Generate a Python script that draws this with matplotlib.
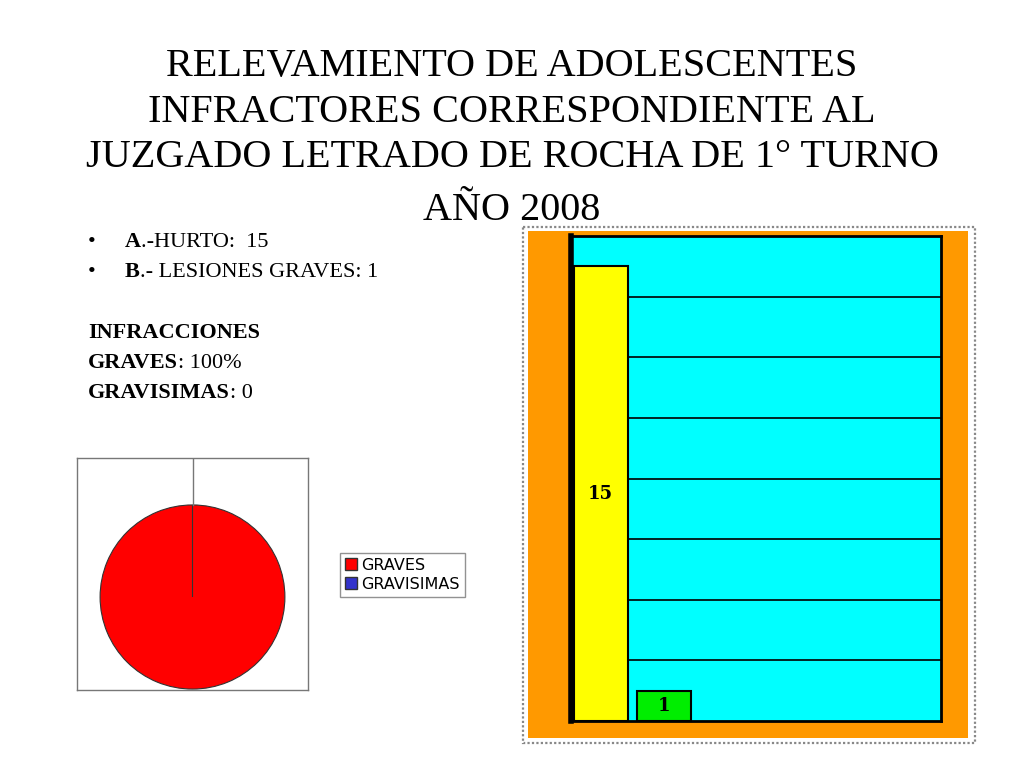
import matplotlib
matplotlib.use("Agg")
import matplotlib.pyplot as plt
from matplotlib.patches import Rectangle, Patch

# ---- data ----
categories = ["A.-HURTO", "B.- LESIONES GRAVES"]
counts = [15, 1]
bar_colors = ["#ffff00", "#00ee00"]
pie_labels = ["GRAVES", "GRAVISIMAS"]
pie_values = [100, 0]
pie_colors = ["#ff0000", "#3333cc"]
title_lines = ["RELEVAMIENTO DE ADOLESCENTES",
               "INFRACTORES CORRESPONDIENTE AL",
               "JUZGADO LETRADO DE ROCHA DE 1° TURNO",
               "AÑO 2008"]
title_baselines = [76, 122, 167, 220]

W, H = 1024, 768
fig = plt.figure(figsize=(W / 100, H / 100), dpi=100)
fig.patch.set_facecolor("white")

def fx(px):
    return px / W

def fy(py):
    return 1 - py / H

serif = ["Liberation Serif", "DejaVu Serif"]

# background axes in pixel coordinates (for frame + text helpers)
bg = fig.add_axes([0, 0, 1, 1], zorder=0)
bg.set_xlim(0, W)
bg.set_ylim(H, 0)
bg.axis("off")

# ---- title ----
for line, yb in zip(title_lines, title_baselines):
    fig.text(0.5, fy(yb), line, ha="center", va="baseline",
             fontsize=29, family=serif)

# ---- bullet text ----
FS = 16

def mixed(x, y, bold, rest, bullet=False):
    if bullet:
        fig.text(fx(88), fy(y), "•", ha="left", va="baseline", fontsize=FS, family=serif)
    t = fig.text(fx(x), fy(y), bold, ha="left", va="baseline", fontsize=FS,
                 family=serif, weight="bold")
    bg.annotate(rest, xy=(1, 0), xycoords=t, ha="left", va="bottom",
                fontsize=FS, family=serif, annotation_clip=False)

mixed(125, 247, "A", ".-HURTO:  15", bullet=True)
mixed(125, 277, "B", ".- LESIONES GRAVES: 1", bullet=True)
fig.text(fx(88), fy(338), "INFRACCIONES", ha="left", va="baseline",
         fontsize=FS, family=serif, weight="bold")
mixed(88, 368, "GRAVES", ": 100%")
mixed(88, 398, "GRAVISIMAS", ": 0")

# ---- bar chart frame (orange with dotted border) ----
bg.add_patch(Rectangle((523, 227), 452, 516, facecolor="white",
                       edgecolor="#888888", linestyle=(0, (1, 1)), linewidth=1.6))
bg.add_patch(Rectangle((528, 231), 440, 507, facecolor="#ff9900",
                       edgecolor="none"))

axb = fig.add_axes([fx(571), fy(721), fx(941) - fx(571), (721 - 236) / H], zorder=2)
axb.set_facecolor("#00ffff")
x = list(range(len(counts)))
bars = axb.bar(x, counts, width=0.86, color=bar_colors, edgecolor="black",
               linewidth=1.5, zorder=3)
axb.set_xlim(-0.47, 5.4)
axb.set_ylim(0, 16)
axb.set_yticks(range(2, 16, 2))
axb.yaxis.grid(True, color="black", linewidth=1.2, zorder=1)
axb.set_axisbelow(True)
axb.tick_params(left=False, bottom=False, labelleft=False, labelbottom=False)
for s in axb.spines.values():
    s.set_linewidth(2)
axb.spines["left"].set_linewidth(4)
for xi, v in zip(x, counts):
    axb.text(xi, v / 2, str(v), ha="center", va="center", fontsize=13,
             weight="bold", family="DejaVu Serif", zorder=4)

# ---- pie chart ----
axp = fig.add_axes([fx(77), fy(690), (308 - 77) / W, (690 - 458) / H])
axp.pie(pie_values, colors=pie_colors, startangle=90, counterclock=False,
        wedgeprops=dict(edgecolor="#333333", linewidth=0.8))
axp.set_xlim(-1.25, 1.25)
axp.set_ylim(-1.01, 1.51)
axp.set_aspect("auto")
axp.plot([0, 0], [1, 1.51], color="#777777", linewidth=1)
axp.set_xticks([])
axp.set_yticks([])
axp.set_frame_on(True)
for s in axp.spines.values():
    s.set_visible(True)
    s.set_color("#777777")
    s.set_linewidth(1)

handles = [Patch(facecolor=c, edgecolor="#333333", label=l)
           for c, l in zip(pie_colors, pie_labels)]
leg = fig.legend(handles=handles, loc="upper left",
                 bbox_to_anchor=(fx(340), fy(553)), fontsize=11.5,
                 frameon=True, fancybox=False, edgecolor="#777777",
                 handlelength=0.75, handleheight=0.75, handletextpad=0.3,
                 borderpad=0.3, labelspacing=0.25, borderaxespad=0)
leg.get_frame().set_linewidth(1)

fig.savefig("out.png", dpi=100)
